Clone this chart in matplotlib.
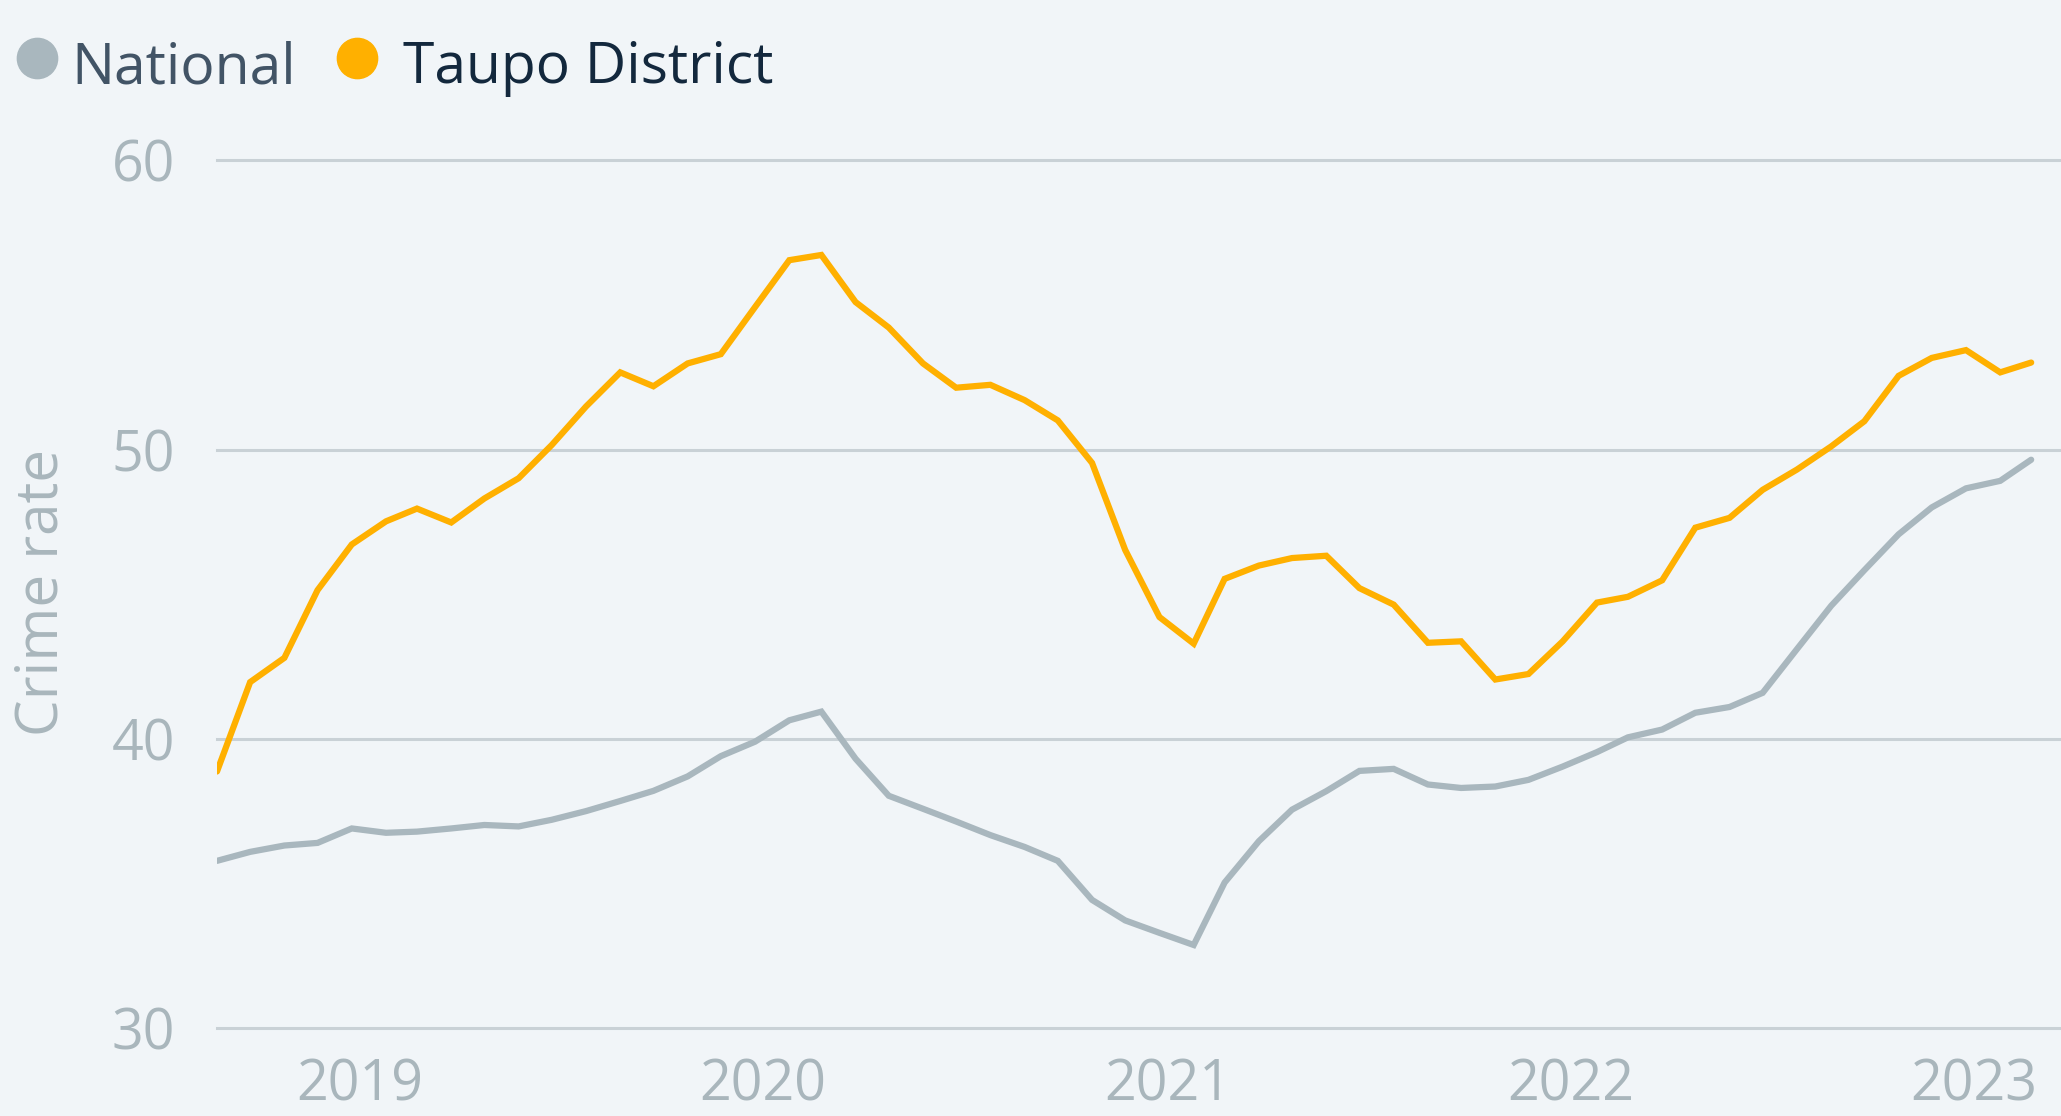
#Taux de criminalité : Taupo District comparé au niveau national (données mensuelles)

import pandas as pd
import matplotlib
matplotlib.use("Agg")
import matplotlib.pyplot as plt
from matplotlib.lines import Line2D
from matplotlib.transforms import ScaledTranslation

plt.rcParams['font.family'] = ['Open Sans', 'DejaVu Sans']

#Données (fin de mois, août 2018 -> février 2023)
mois = pd.date_range("2018-08-31", periods=55, freq="ME")
national = [35.78, 36.09, 36.31, 36.40, 36.90, 36.75, 36.79, 36.90, 37.02, 36.97,
            37.20, 37.50, 37.85, 38.20, 38.70, 39.40, 39.90, 40.64, 40.94, 39.31,
            38.03, 37.58, 37.14, 36.67, 36.26, 35.78, 34.43, 33.72, 33.29, 32.87,
            35.03, 36.46, 37.55, 38.19, 38.89, 38.96, 38.42, 38.30, 38.35, 38.58,
            39.04, 39.54, 40.05, 40.32, 40.90, 41.10, 41.59, 43.10, 44.60, 45.83,
            47.07, 48.00, 48.66, 48.92, 49.65]
taupo = [38.87, 41.96, 42.80, 45.14, 46.72, 47.52, 47.96, 47.48, 48.31, 49.01,
         50.16, 51.49, 52.67, 52.19, 52.98, 53.30, 54.93, 56.55, 56.73, 55.10,
         54.22, 52.98, 52.14, 52.24, 51.71, 51.01, 49.54, 46.53, 44.21, 43.29,
         45.53, 45.99, 46.25, 46.33, 45.21, 44.64, 43.32, 43.37, 42.05, 42.24,
         43.37, 44.71, 44.91, 45.48, 47.30, 47.64, 48.61, 49.31, 50.11, 50.98,
         52.55, 53.17, 53.44, 52.67, 53.01]
annees = [2019, 2020, 2021, 2022, 2023]
graduations_y = [30, 40, 50, 60]
series = ["National", "Taupo District"]

fond = '#f1f5f8'
gris_ligne = '#a9b7be'
orange = '#ffb000'
gris_texte = '#a9b6bc'

L, H = 2061, 1116
fig = plt.figure(figsize=(L / 100, H / 100), dpi=100, facecolor=fond)
ax = fig.add_axes([217 / L, (H - 1028) / H, (L - 217) / L, (1028 - 160.4) / H])
ax.set_facecolor(fond)

#Lignes de grille horizontales
for g in graduations_y:
    ax.axhline(g, color='#c9d1d6', lw=2.2, zorder=1, clip_on=False)

ax.plot(mois, national, color=gris_ligne, lw=4.5, solid_joinstyle='miter',
        solid_capstyle='round', zorder=3)
ax.plot(mois, taupo, color=orange, lw=4.5, solid_joinstyle='miter',
        solid_capstyle='round', zorder=4)

ax.set_ylim(30, 60)
ax.set_xlim(mois[0], mois[-1] + pd.Timedelta(days=27))
ax.set_yticks(graduations_y)
ax.set_xticks([pd.Timestamp(f"{a}-01-01") for a in annees])
ax.set_xticklabels([str(a) for a in annees])
ax.tick_params(length=0, labelsize=40, labelcolor=gris_texte)
ax.tick_params(axis='y', pad=30)
ax.tick_params(axis='x', pad=21)
decalage = ScaledTranslation(7 / 100, 0, fig.dpi_scale_trans)
for lab in ax.get_xticklabels():
    lab.set_transform(lab.get_transform() + decalage)
for s in ax.spines.values():
    s.set_visible(False)

fig.text(42 / L, 1 - 593 / H, 'Crime rate', rotation=90, fontsize=42,
         color=gris_texte, ha='center', va='center')

#Légende dessinée à la main
couleurs_leg = [gris_ligne, orange]
textes_leg = ['#425466', '#13283d']
x_points = [37, 357]
x_textes = [71, 403]
for nom, c, ct, xp, xt in zip(series, couleurs_leg, textes_leg, x_points, x_textes):
    fig.add_artist(Line2D([xp / L], [1 - 58 / H], marker='o', markersize=29,
                          color=c, transform=fig.transFigure, linestyle='none'))
    fig.text(xt / L, 1 - 83 / H, nom, fontsize=41, color=ct, ha='left', va='baseline')

fig.savefig("out.png", dpi=100, facecolor=fond)
